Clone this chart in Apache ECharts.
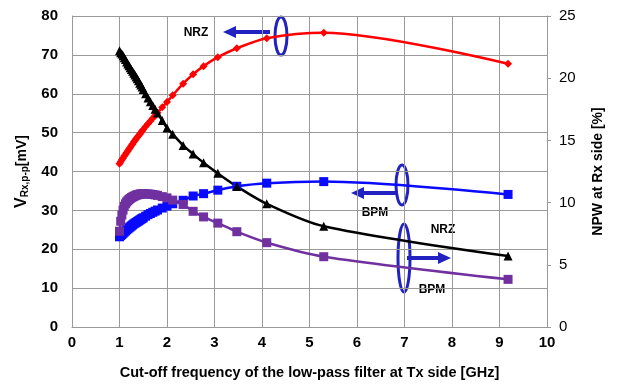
<!DOCTYPE html>
<html>
<head>
<meta charset="utf-8">
<script src="https://cdn.jsdelivr.net/npm/echarts@6/dist/echarts.min.js"></script>
<style>
  html, body { margin: 0; padding: 0; background: #fff; }
  #chart { width: 619px; height: 386px; }
</style>
</head>
<body>
<div id="chart"></div>
<script>
// cut-off frequency [GHz]
const freq = [1.0, 1.025, 1.05, 1.075, 1.1, 1.125, 1.15, 1.175, 1.2, 1.225, 1.25, 1.275, 1.3, 1.325, 1.35, 1.375, 1.4, 1.425, 1.45, 1.475, 1.5,
    1.55, 1.6, 1.65, 1.7, 1.75, 1.8, 1.9, 2.0, 2.12, 2.34, 2.55, 2.77, 3.07, 3.47, 4.1, 5.3, 9.18];
// VRx,p-p [mV]
const vNrz = [42.0, 42.5, 43.0, 43.5, 44.0, 44.4, 44.9, 45.3, 45.8, 46.2, 46.7, 47.1, 47.6, 48.0, 48.4, 48.8, 49.2, 49.6, 50.0, 50.4, 50.8,
    51.6, 52.3, 53.0, 53.7, 54.4, 55.1, 56.5, 57.9, 59.6, 62.6, 65.0, 67.1, 69.4, 71.7, 74.3, 75.7, 67.7];
const vBpm = [23.2, 23.5, 23.8, 24.1, 24.4, 24.7, 25.0, 25.25, 25.5, 25.75, 26.0, 26.25, 26.5, 26.7, 26.9, 27.1, 27.3, 27.5, 27.7, 27.9, 28.1,
    28.5, 28.9, 29.2, 29.5, 29.8, 30.1, 30.6, 31.1, 31.7, 32.6, 33.7, 34.3, 35.2, 36.2, 37.0, 37.4, 34.1];
// NPW at Rx side [%]
const npwNrz = [22.2, 22.05, 21.95, 21.8, 21.65, 21.5, 21.3, 21.15, 21.0, 20.85, 20.7, 20.55, 20.4, 20.25, 20.1, 19.95, 19.8, 19.6, 19.45, 19.3, 19.1,
    18.75, 18.4, 18.1, 17.8, 17.5, 17.2, 16.6, 16.0, 15.5, 14.6, 13.9, 13.2, 12.35, 11.3, 9.9, 8.1, 5.7];
const npwBpm = [7.7, 8.5, 9.0, 9.4, 9.7, 9.9, 10.05, 10.15, 10.25, 10.33, 10.4, 10.45, 10.5, 10.55, 10.6, 10.62, 10.65, 10.68, 10.7, 10.7, 10.7,
    10.7, 10.7, 10.68, 10.65, 10.62, 10.58, 10.48, 10.38, 10.2, 9.85, 9.3, 8.85, 8.35, 7.66, 6.78, 5.65, 3.83];

const FONT = '"Liberation Sans Narrow", "Liberation Sans", Arial, sans-serif';
const ANNO = '#2222c0';

function pairs(ys) {
    return freq.map((f, i) => [f, ys[i]]);
}

function arrow(x1, x2, y) {
    const dir = x2 > x1 ? 1 : -1;
    return [
        { type: 'line', shape: { x1: x1, y1: y, x2: x2 - dir * 9, y2: y }, style: { stroke: ANNO, lineWidth: 4 } },
        { type: 'polygon', shape: { points: [[x2, y], [x2 - dir * 13, y - 6], [x2 - dir * 13, y + 6]] }, style: { fill: ANNO } }
    ];
}

function loop(cx, cy, rx, ry) {
    return { type: 'ellipse', shape: { cx: cx, cy: cy, rx: rx, ry: ry }, style: { fill: null, stroke: ANNO, lineWidth: 3 } };
}

function label(x, y, text) {
    return { type: 'text', x: x, y: y, style: { text: text, fill: '#000', font: 'bold 12px ' + FONT, align: 'center', verticalAlign: 'middle' } };
}

const myChart = echarts.init(document.getElementById('chart'));
const option = {
    animation: false,
    grid: { left: 72, right: 72, top: 16, bottom: 59 },
    xAxis: {
        type: 'value',
        min: 0,
        max: 10,
        interval: 1,
        name: 'Cut-off frequency of the low-pass filter at Tx side [GHz]',
        nameLocation: 'middle',
        nameGap: 38,
        nameTextStyle: { color: '#000', fontFamily: FONT, fontWeight: 'bold', fontSize: 14.5 },
        axisLine: { lineStyle: { color: '#999', width: 1 } },
        axisTick: { show: false },
        axisLabel: { color: '#000', fontFamily: FONT, fontWeight: 'bold', fontSize: 15, margin: 8 },
        splitLine: { show: true, lineStyle: { color: '#999', width: 1 } }
    },
    yAxis: [
        {
            type: 'value',
            min: 0,
            max: 80,
            interval: 10,
            name: '{v|V}{s|Rx,p-p}{u|[mV]}',
            nameLocation: 'middle',
            nameRotate: 90,
            nameGap: 42,
            nameTextStyle: {
                color: '#000',
                rich: {
                    v: { fontFamily: FONT, fontWeight: 'bold', fontSize: 16, color: '#000' },
                    s: { fontFamily: FONT, fontWeight: 'bold', fontSize: 10, color: '#000', padding: [6, 0, 0, 0] },
                    u: { fontFamily: FONT, fontWeight: 'bold', fontSize: 14, color: '#000' }
                }
            },
            axisLine: { show: true, lineStyle: { color: '#999', width: 1 } },
            axisTick: { show: false },
            axisLabel: { color: '#000', fontFamily: FONT, fontWeight: 'bold', fontSize: 15, margin: 14 },
            splitLine: { show: true, lineStyle: { color: '#999', width: 1 } }
        },
        {
            type: 'value',
            min: 0,
            max: 25,
            interval: 5,
            position: 'right',
            name: 'NPW at Rx side [%]',
            nameLocation: 'middle',
            nameRotate: 90,
            nameGap: 44,
            nameTextStyle: { color: '#000', fontFamily: FONT, fontWeight: 'bold', fontSize: 14 },
            axisLine: { show: true, lineStyle: { color: '#999', width: 1 } },
            axisTick: { show: true, length: 4, lineStyle: { color: '#999' } },
            axisLabel: { color: '#000', fontFamily: FONT, fontSize: 15, margin: 12 },
            splitLine: { show: false }
        }
    ],
    series: [
        {
            name: 'NRZ VRx',
            type: 'line',
            yAxisIndex: 0,
            smooth: 0.3,
            symbol: 'diamond',
            symbolSize: 8,
            lineStyle: { color: '#ff0000', width: 2.5 },
            itemStyle: { color: '#ff0000' },
            data: pairs(vNrz)
        },
        {
            name: 'BPM VRx',
            type: 'line',
            yAxisIndex: 0,
            smooth: 0.3,
            symbol: 'rect',
            symbolSize: 9,
            lineStyle: { color: '#0a0aff', width: 2.5 },
            itemStyle: { color: '#0a0aff' },
            data: pairs(vBpm)
        },
        {
            name: 'NRZ NPW',
            type: 'line',
            yAxisIndex: 1,
            smooth: 0.3,
            symbol: 'triangle',
            symbolSize: 9,
            lineStyle: { color: '#000', width: 2.5 },
            itemStyle: { color: '#000' },
            data: pairs(npwNrz)
        },
        {
            name: 'BPM NPW',
            type: 'line',
            yAxisIndex: 1,
            smooth: 0.3,
            symbol: 'rect',
            symbolSize: 9,
            lineStyle: { color: '#7030a0', width: 2.5 },
            itemStyle: { color: '#7030a0' },
            data: pairs(npwBpm)
        }
    ],
    graphic: [
        label(196, 33, 'NRZ'),
        ...arrow(270, 223, 32),
        loop(281, 36, 6, 19),
        label(375, 213, 'BPM'),
        ...arrow(398, 351, 193),
        loop(402, 185, 6, 20),
        label(443, 230, 'NRZ'),
        loop(404, 258, 6, 34),
        ...arrow(407, 451, 258),
        label(432, 290, 'BPM')
    ]
};
myChart.setOption(option);
</script>
</body>
</html>
